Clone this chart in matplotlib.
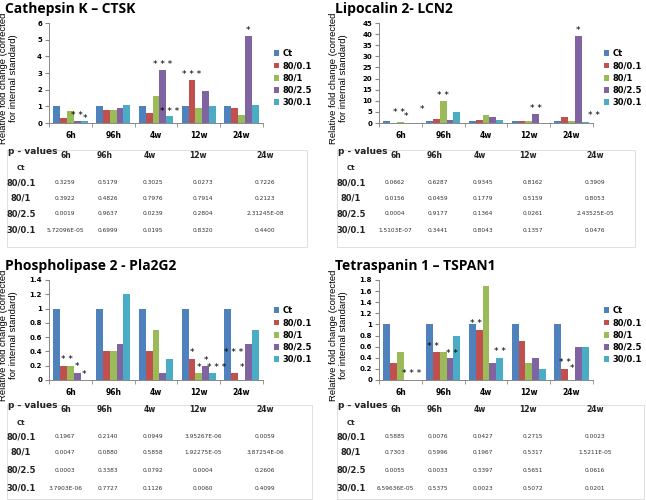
import numpy as np
import matplotlib
matplotlib.use("Agg")
import matplotlib.pyplot as plt
from matplotlib.patches import Rectangle
from matplotlib import font_manager

W, H = 646, 500

groups = ["6h", "96h", "4w", "12w", "24w"]
series = ["Ct", "80/0.1", "80/1", "80/2.5", "30/0.1"]
colors = ["#4F81BD", "#C0504D", "#9BBB59", "#8064A2", "#4BACC6"]

# ---- bar values (rows = series, cols = time points) ----
ctsk = [[1, 1, 1, 1, 1],
        [0.3, 0.8, 0.6, 2.6, 0.9],
        [0.7, 0.8, 1.6, 0.9, 0.5],
        [0.1, 0.9, 3.2, 1.9, 5.2],
        [0.1, 1.1, 0.4, 1.0, 1.1]]
lcn2 = [[1, 1, 1, 1, 1],
        [0.2, 2.0, 1.2, 0.8, 2.5],
        [0.3, 10.0, 3.6, 0.8, 0.8],
        [0.1, 1.3, 2.8, 4.0, 39.3],
        [0.05, 4.8, 1.3, 0.2, 0.3]]
pla2g2 = [[1, 1, 1, 1, 1],
          [0.2, 0.4, 0.4, 0.3, 0.1],
          [0.2, 0.4, 0.7, 0.1, 0.0],
          [0.1, 0.5, 0.1, 0.2, 0.5],
          [0.0, 1.2, 0.3, 0.1, 0.7]]
tspan1 = [[1, 1, 1, 1, 1],
          [0.3, 0.5, 0.9, 0.7, 0.2],
          [0.5, 0.5, 1.7, 0.3, 0.0],
          [0.0, 0.4, 0.3, 0.4, 0.6],
          [0.0, 0.8, 0.4, 0.2, 0.6]]

# ---- significance stars: (group, series slot, text, height) ----
ctsk_stars = [(0, 2.9, "* *", 0.15), (0, 4.1, "*", 0.0), (2, 3, "* * *", 3.25),
              (2, 4, "* * *", 0.45), (3, 1, "* * *", 2.65), (4, 3, "*", 5.25)]
lcn2_stars = [(0, 1.8, "* *", 2.8), (0, 2.8, "*", 1.0), (0, 5.2, "*", 4.0),
              (1, 2, "* *", 10.5), (3, 3, "* *", 4.5), (4, 3, "*", 39.8),
              (4, 5.3, "* *", 1.5)]
pla2g2_stars = [(0, 1.5, "* *", 0.22), (0, 3, "*", 0.12), (0, 4, "*", 0.02),
                (3, 1, "*", 0.32), (3, 2, "*", 0.11), (3, 3, "*", 0.21),
                (3, 4.6, "* * *", 0.11), (4, 0.8, "* * *", 0.32), (4, 2, "*", 0.11)]
tspan1_stars = [(0, 3.6, "* * *", 0.03), (1, 0.5, "* *", 0.53), (1, 3.3, "* *", 0.4),
                (2, 0.6, "* *", 0.93), (2, 4, "* *", 0.43),
                (4, 1, "* *", 0.23), (4, 2, "*", 0.12)]

# ---- p-value tables ----
p_ctsk = [["0.3259", "0.5179", "0.3025", "0.0273", "0.7226"],
          ["0.3922", "0.4826", "0.7976", "0.7914", "0.2123"],
          ["0.0019", "0.9637", "0.0239", "0.2804", "2.31245E-08"],
          ["5.72096E-05", "0.6999", "0.0195", "0.8320", "0.4400"]]
p_lcn2 = [["0.0662", "0.6287", "0.9345", "0.8162", "0.3909"],
          ["0.0156", "0.0459", "0.1779", "0.5159", "0.8053"],
          ["0.0004", "0.9177", "0.1364", "0.0261", "2.43525E-05"],
          ["1.5103E-07", "0.3441", "0.8043", "0.1357", "0.0476"]]
p_pla2g2 = [["0.1967", "0.2140", "0.0949", "3.95267E-06", "0.0059"],
            ["0.0047", "0.0880", "0.5858", "1.92275E-05", "3.87254E-06"],
            ["0.0003", "0.3383", "0.0792", "0.0004", "0.2606"],
            ["3.7903E-06", "0.7727", "0.1126", "0.0060", "0.4099"]]
p_tspan1 = [["0.5885", "0.0076", "0.0427", "0.2715", "0.0023"],
            ["0.7303", "0.5996", "0.1967", "0.5317", "1.5211E-05"],
            ["0.0055", "0.0033", "0.3397", "0.5651", "0.0616"],
            ["6.59636E-05", "0.5375", "0.0023", "0.5072", "0.0201"]]

installed = set(f.name for f in font_manager.fontManager.ttflist)
if "Liberation Sans Narrow" in installed:
    ylab_font, ylab_size = "Liberation Sans Narrow", 7.5
else:
    ylab_font, ylab_size = "Liberation Sans", 6.8

plt.rcParams['font.family'] = ['DejaVu Sans']
fig = plt.figure(figsize=(W / 100, H / 100), dpi=100)


def fx(x):
    return x / W


def fy(y):
    return 1 - y / H


def bar_panel(x0, y_top, title, vals, stars, ymax, step):
    ax = fig.add_axes([fx(x0), fy(y_top + 100), fx(214), 100 / H])
    x = np.arange(len(groups))
    bw = 0.16
    for i, s in enumerate(series):
        ax.bar(x + (i - 2) * bw, vals[i], bw, color=colors[i], label=s, zorder=2)
    for g, s, t, h in stars:
        ax.text(g + (s - 2) * bw, h, t, ha="center", va="bottom", fontsize=6.5,
                color="black", zorder=3, clip_on=False)
    ax.set_xlim(-0.5, 4.5)
    ax.set_ylim(0, ymax)
    yt = np.arange(0, ymax + step / 2, step)
    ax.set_yticks(yt)
    ax.set_yticklabels([("%g" % v) for v in yt], fontsize=5, fontweight="bold")
    ax.set_xticks(x)
    ax.set_xticklabels(groups, fontsize=5.5, fontweight="bold")
    ax.set_xticks(np.arange(-0.5, 5, 1), minor=True)
    ax.tick_params(axis="x", which="major", length=0, pad=6)
    ax.tick_params(axis="x", which="minor", length=3, color="#888888")
    ax.tick_params(axis="y", length=3, color="#888888", pad=2)
    for sp in ["top", "right"]:
        ax.spines[sp].set_visible(False)
    for sp in ["left", "bottom"]:
        ax.spines[sp].set_color("#888888")
        ax.spines[sp].set_linewidth(0.7)
    ax.set_ylabel("Relative fold change (corrected\nfor internal standard)",
                  fontsize=ylab_size, family=[ylab_font, "DejaVu Sans"],
                  linespacing=1.1)
    ax.yaxis.set_label_coords(-0.145, 0.45)
    ax.legend(loc="upper left", bbox_to_anchor=(1.03, 0.78), frameon=False,
              handlelength=0.7, handleheight=0.7, handletextpad=0.4,
              labelspacing=0.38, borderpad=0, prop={"weight": "bold", "size": 6})
    fig.text(fx(x0 - 44), fy(y_top - 14), title, fontsize=10, fontweight="bold",
             family=["Open Sans", "DejaVu Sans"], ha="left", va="center")
    return ax


def table_panel(x0, box, rows_y, head_y, pvals):
    bx0, by0, bx1, by1 = box
    fig.patches.append(Rectangle((fx(bx0), fy(by1)), fx(bx1 - bx0), (by1 - by0) / H,
                                 transform=fig.transFigure, fill=False,
                                 edgecolor="#d9d9d9", linewidth=0.6))
    fig.text(fx(x0 + 8), fy(head_y - 4), "p - values", fontsize=6.5, fontweight="bold",
             ha="left", va="center", color="#222222")
    col_x = [66, 105, 150, 198, 265]
    for g, cx in zip(groups, col_x):
        fig.text(fx(x0 + cx), fy(head_y), g, fontsize=5.5, fontweight="bold",
                 ha="center", va="center", color="#222222")
    val_x = [65, 108, 153, 203, 265]
    for r, (lab, ry) in enumerate(zip(series, rows_y)):
        fig.text(fx(x0 + 21), fy(ry), lab, fontsize=6 if r else 5, fontweight="bold",
                 ha="center", va="center", color="#222222")
        if r == 0:
            continue
        for c, vx in enumerate(val_x):
            fig.text(fx(x0 + vx), fy(ry), pvals[r - 1][c], fontsize=4.2,
                     ha="center", va="center", color="#333333")


bar_panel(49, 23, "Cathepsin K \u2013 CTSK", ctsk, ctsk_stars, 6, 1)
bar_panel(379, 23, "Lipocalin 2- LCN2", lcn2, lcn2_stars, 45, 5)
bar_panel(49, 280, "Phospholipase 2 - Pla2G2", pla2g2, pla2g2_stars, 1.4, 0.2)
bar_panel(379, 280, "Tetraspanin 1 \u2013 TSPAN1", tspan1, tspan1_stars, 1.8, 0.2)

table_panel(0, (7, 150, 307, 247), [168, 183, 198, 214, 230], 155, p_ctsk)
table_panel(330, (337, 150, 635, 247), [168, 183, 198, 214, 230], 155, p_lcn2)
table_panel(0, (7, 405, 312, 499), [423, 437, 452, 470, 488], 409, p_pla2g2)
table_panel(330, (337, 405, 644, 499), [423, 437, 452, 470, 488], 409, p_tspan1)

fig.savefig("out.png", dpi=100)
